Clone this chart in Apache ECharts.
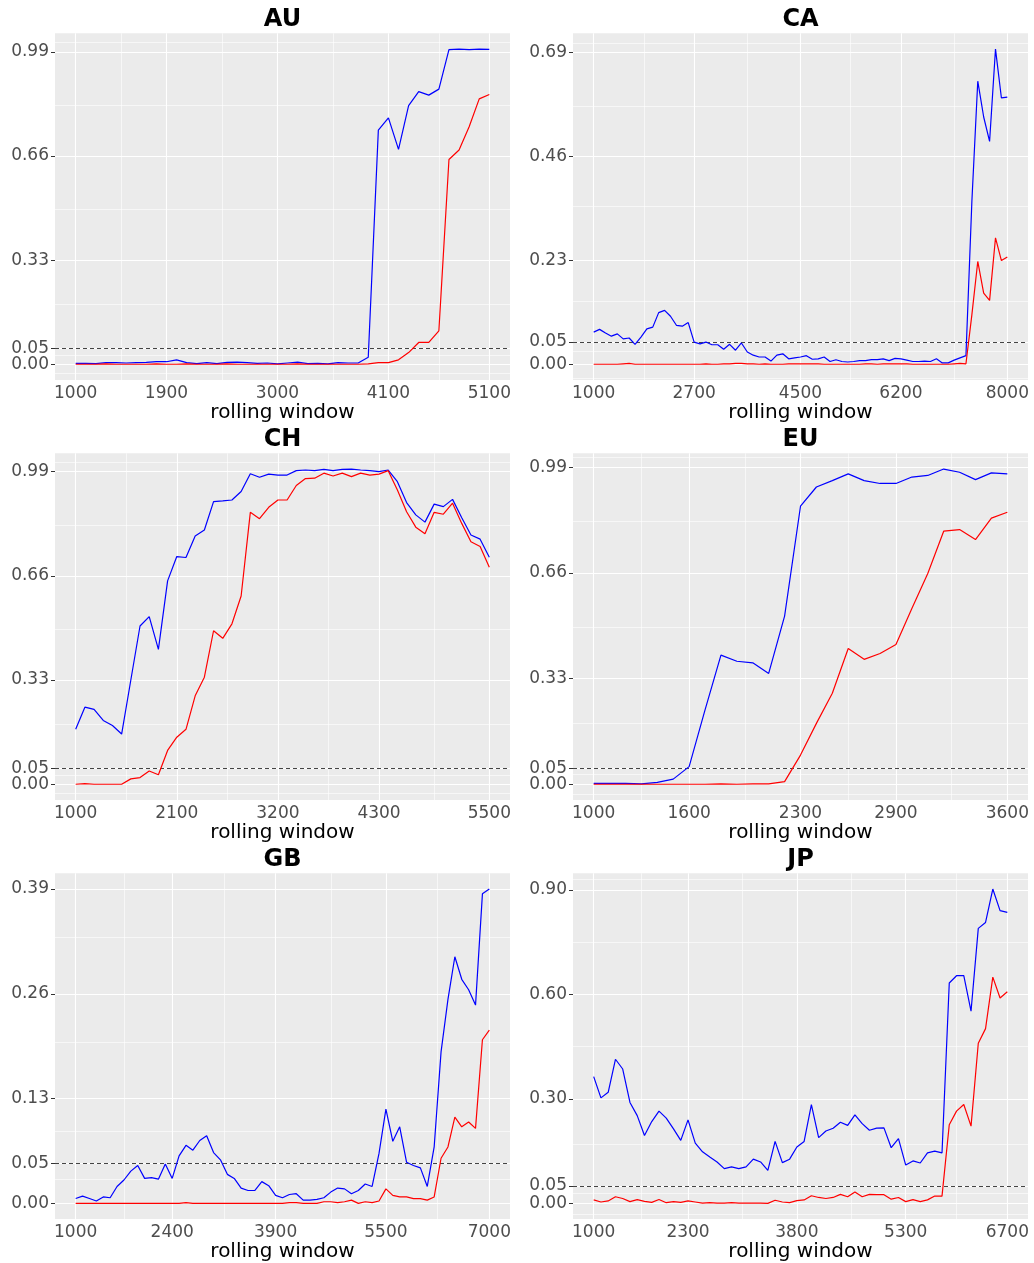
<!DOCTYPE html>
<html>
<head>
<meta charset="utf-8">
<script src="https://cdn.jsdelivr.net/npm/echarts@6/dist/echarts.min.js"></script>
<style>
  html, body { margin: 0; padding: 0; background: #ffffff; }
  #chart { width: 1034px; height: 1263px; }
</style>
</head>
<body>
<div id="chart"></div>
<script>
// Rolling-window p-values per market: blue and red test series, one point every 100 observations.
const WINDOW_STEP = 100;
const THRESHOLD = 0.05;

// ---- AU ----
const AU_span = [1000, 5100];
const AU_xBreaks = [1000, 1900, 3000, 4100, 5100];
const AU_yBreaks = [0, 0.05, 0.33, 0.66, 0.99];
const AU_blue = [0.003, 0.003, 0.002, 0.005, 0.005, 0.004, 0.005, 0.006, 0.008, 0.008,
  0.014, 0.005, 0.002, 0.005, 0.002, 0.006, 0.007, 0.005, 0.003, 0.004,
  0.001, 0.004, 0.007, 0.002, 0.003, 0.001, 0.005, 0.004, 0.004, 0.022,
  0.742, 0.781, 0.681, 0.820, 0.864, 0.853, 0.872, 0.997, 0.999, 0.997, 0.999, 0.998];
const AU_red = [0, 0, 0, 0.001, 0, 0, 0, 0, 0.001, 0,
  0, 0.001, 0, 0, 0, 0.001, 0, 0, 0, 0,
  0, 0, 0.001, 0, 0, 0, 0, 0, 0, 0.001,
  0.005, 0.005, 0.014, 0.037, 0.069, 0.069, 0.106, 0.649, 0.679, 0.753, 0.841, 0.855];

// ---- CA ----
const CA_span = [1000, 8000];
const CA_xBreaks = [1000, 2700, 4500, 6200, 8000];
const CA_yBreaks = [0, 0.05, 0.23, 0.46, 0.69];
const CA_blue = [0.072, 0.078, 0.070, 0.063, 0.068, 0.057, 0.059, 0.045, 0.061, 0.079,
  0.083, 0.115, 0.120, 0.107, 0.087, 0.085, 0.093, 0.050, 0.046, 0.050,
  0.044, 0.044, 0.034, 0.045, 0.032, 0.048, 0.028, 0.021, 0.017, 0.017,
  0.008, 0.021, 0.024, 0.013, 0.015, 0.017, 0.020, 0.012, 0.013, 0.017,
  0.007, 0.011, 0.007, 0.006, 0.007, 0.009, 0.009, 0.011, 0.011, 0.013,
  0.009, 0.014, 0.013, 0.010, 0.007, 0.007, 0.008, 0.007, 0.013, 0.004,
  0.004, 0.010, 0.015, 0.020, 0.360, 0.626, 0.547, 0.493, 0.697, 0.589, 0.591];
const CA_red = [0.001, 0.001, 0.001, 0.001, 0.001, 0.002, 0.003, 0.001, 0.001, 0.001,
  0.001, 0.001, 0.001, 0.001, 0.001, 0.001, 0.001, 0.001, 0.001, 0.002,
  0.001, 0.001, 0.002, 0.002, 0.003, 0.003, 0.002, 0.002, 0.001, 0.002,
  0.001, 0.001, 0.001, 0.002, 0.002, 0.002, 0.002, 0.002, 0.002, 0.001,
  0.001, 0.001, 0.001, 0.001, 0.001, 0.001, 0.002, 0.002, 0.001, 0.002,
  0.002, 0.002, 0.002, 0.002, 0.001, 0.001, 0.001, 0.001, 0.001, 0.001,
  0.001, 0.002, 0.003, 0.002, 0.110, 0.228, 0.158, 0.142, 0.280, 0.230, 0.238];

// ---- CH ----
const CH_span = [1000, 5500];
const CH_xBreaks = [1000, 2100, 3200, 4300, 5500];
const CH_yBreaks = [0, 0.05, 0.33, 0.66, 0.99];
const CH_blue = [0.174, 0.244, 0.237, 0.202, 0.186, 0.159, 0.330, 0.501, 0.531, 0.427,
  0.644, 0.721, 0.718, 0.786, 0.805, 0.895, 0.897, 0.900, 0.927, 0.983,
  0.972, 0.982, 0.979, 0.979, 0.993, 0.995, 0.993, 0.997, 0.993, 0.997,
  0.998, 0.995, 0.993, 0.990, 0.995, 0.958, 0.892, 0.853, 0.830, 0.887,
  0.879, 0.902, 0.844, 0.789, 0.776, 0.719];
const CH_red = [0, 0.002, 0, 0, 0, 0, 0.017, 0.021, 0.042, 0.030,
  0.107, 0.149, 0.174, 0.280, 0.339, 0.486, 0.462, 0.508, 0.596, 0.861,
  0.841, 0.877, 0.900, 0.900, 0.946, 0.968, 0.969, 0.985, 0.976, 0.985,
  0.974, 0.985, 0.979, 0.982, 0.993, 0.932, 0.863, 0.814, 0.793, 0.861,
  0.855, 0.890, 0.826, 0.768, 0.753, 0.687];

// ---- EU ----
const EU_span = [1000, 3600];
const EU_xBreaks = [1000, 1600, 2300, 2900, 3600];
const EU_yBreaks = [0, 0.05, 0.33, 0.66, 0.99];
const EU_blue = [0.003, 0.003, 0.003, 0.001, 0.006, 0.016, 0.055, 0.232, 0.403, 0.384,
  0.379, 0.346, 0.525, 0.868, 0.928, 0.948, 0.969, 0.948, 0.939, 0.939,
  0.959, 0.964, 0.984, 0.974, 0.951, 0.972, 0.969];
const EU_red = [0, 0, 0, 0, 0, 0, 0, 0, 0.001, 0,
  0.001, 0.001, 0.008, 0.091, 0.190, 0.284, 0.424, 0.390, 0.408, 0.436,
  0.549, 0.658, 0.790, 0.795, 0.764, 0.831, 0.849];

// ---- GB ----
const GB_span = [1000, 7000];
const GB_xBreaks = [1000, 2400, 3900, 5500, 7000];
const GB_yBreaks = [0, 0.05, 0.13, 0.26, 0.39];
const GB_blue = [0.006, 0.009, 0.006, 0.003, 0.008, 0.007, 0.021, 0.029, 0.040, 0.047,
  0.031, 0.032, 0.030, 0.049, 0.031, 0.059, 0.072, 0.066, 0.078, 0.084,
  0.063, 0.054, 0.036, 0.031, 0.019, 0.016, 0.016, 0.027, 0.022, 0.010,
  0.007, 0.011, 0.012, 0.004, 0.004, 0.005, 0.007, 0.014, 0.019, 0.018,
  0.012, 0.016, 0.024, 0.021, 0.062, 0.117, 0.077, 0.095, 0.051, 0.047,
  0.044, 0.021, 0.070, 0.188, 0.253, 0.306, 0.278, 0.265, 0.246, 0.384,
  0.390];
const GB_red = [0, 0, 0, 0, 0, 0, 0, 0, 0, 0,
  0, 0, 0, 0, 0, 0, 0.001, 0, 0, 0,
  0, 0, 0, 0, 0, 0, 0, 0, 0, 0,
  0, 0.001, 0.001, 0, 0, 0, 0.002, 0.002, 0.001, 0.002,
  0.004, 0, 0.002, 0.001, 0.003, 0.018, 0.010, 0.008, 0.008, 0.006,
  0.006, 0.004, 0.008, 0.056, 0.070, 0.107, 0.095, 0.101, 0.093, 0.203,
  0.215];

// ---- JP ----
const JP_span = [1000, 6700];
const JP_xBreaks = [1000, 2300, 3800, 5300, 6700];
const JP_yBreaks = [0, 0.05, 0.30, 0.60, 0.90];
const JP_blue = [0.364, 0.303, 0.319, 0.414, 0.386, 0.290, 0.252, 0.195, 0.235, 0.265,
  0.245, 0.214, 0.181, 0.240, 0.173, 0.148, 0.133, 0.119, 0.100, 0.105,
  0.100, 0.105, 0.127, 0.119, 0.095, 0.178, 0.117, 0.127, 0.162, 0.178,
  0.284, 0.189, 0.208, 0.216, 0.233, 0.224, 0.254, 0.229, 0.210, 0.216,
  0.217, 0.160, 0.186, 0.110, 0.122, 0.116, 0.145, 0.150, 0.145, 0.633,
  0.654, 0.654, 0.552, 0.790, 0.807, 0.903, 0.841, 0.836];
const JP_red = [0.010, 0.004, 0.007, 0.019, 0.014, 0.005, 0.011, 0.006, 0.003, 0.011,
  0.002, 0.005, 0.003, 0.007, 0.004, 0.001, 0.002, 0.001, 0.001, 0.002,
  0.001, 0.001, 0.001, 0.001, 0, 0.009, 0.004, 0.002, 0.008, 0.010,
  0.022, 0.017, 0.014, 0.017, 0.026, 0.019, 0.033, 0.019, 0.026, 0.025,
  0.025, 0.012, 0.017, 0.005, 0.011, 0.005, 0.010, 0.021, 0.021, 0.226,
  0.265, 0.284, 0.222, 0.460, 0.502, 0.650, 0.590, 0.608];

const panels = [
  { name: 'AU', span: AU_span, xBreaks: AU_xBreaks, yBreaks: AU_yBreaks, blue: AU_blue, red: AU_red },
  { name: 'CA', span: CA_span, xBreaks: CA_xBreaks, yBreaks: CA_yBreaks, blue: CA_blue, red: CA_red },
  { name: 'CH', span: CH_span, xBreaks: CH_xBreaks, yBreaks: CH_yBreaks, blue: CH_blue, red: CH_red },
  { name: 'EU', span: EU_span, xBreaks: EU_xBreaks, yBreaks: EU_yBreaks, blue: EU_blue, red: EU_red },
  { name: 'GB', span: GB_span, xBreaks: GB_xBreaks, yBreaks: GB_yBreaks, blue: GB_blue, red: GB_red },
  { name: 'JP', span: JP_span, xBreaks: JP_xBreaks, yBreaks: JP_yBreaks, blue: JP_blue, red: JP_red }
];

// ---- layout (2 columns x 3 rows) ----
const COL_LEFT = [55, 573];
const ROW_TOP = [33.3, 453.3, 873.3];
const PANEL_W = 455;
const PANEL_H = 346.7;
const FONT = 'DejaVu Sans';

function windows(span) {
  const out = [];
  for (let w = span[0]; w <= span[1]; w += WINDOW_STEP) out.push(w);
  return out;
}

// 5% padding on each side of the data range
function paddedRange(values) {
  const lo = Math.min.apply(null, values);
  const hi = Math.max.apply(null, values);
  const pad = (hi - lo) * 0.05;
  return [lo - pad, hi + pad];
}

// minor grid: midpoints between breaks, extended by the first break step
function minorBreaks(b, lo, hi) {
  const e = b.slice();
  const step = b[1] - b[0];
  if (lo < e[0]) e.unshift(e[0] - step);
  if (hi > e[e.length - 1]) e.push(e[e.length - 1] + step);
  const mids = [];
  for (let i = 0; i < e.length - 1; i++) mids.push((e[i] + e[i + 1]) / 2);
  return mids.filter(v => v > lo && v < hi);
}

function yAxisFor(i, yr, values) {
  return {
    gridIndex: i, type: 'value', position: 'left', offset: 0, min: yr[0], max: yr[1],
    axisLine: { show: false },
    axisTick: { show: true, length: 4, customValues: values, lineStyle: { color: '#333333', width: 1 } },
    axisLabel: { customValues: values, hideOverlap: false, showMinLabel: true, showMaxLabel: true,
      color: '#4D4D4D', fontSize: 17, fontFamily: FONT, margin: 6,
      formatter: v => v.toFixed(2) },
    splitLine: { show: false }
  };
}

const grids = [], xAxes = [], yAxes = [], series = [], graphics = [];

panels.forEach((p, i) => {
  const col = i % 2, row = Math.floor(i / 2);
  const left = COL_LEFT[col], top = ROW_TOP[row];
  const xs = windows(p.span);
  if (xs.length !== p.blue.length || xs.length !== p.red.length) {
    console.error('length mismatch in ' + p.name, xs.length, p.blue.length, p.red.length);
  }
  const xr = paddedRange(xs);
  const yr = paddedRange(p.blue.concat(p.red, [THRESHOLD]));

  grids.push({
    left: left, top: top, width: PANEL_W, height: PANEL_H,
    show: true, backgroundColor: '#EBEBEB', borderWidth: 0, containLabel: false
  });

  xAxes.push({
    gridIndex: i, type: 'value', min: xr[0], max: xr[1],
    axisLine: { show: false },
    axisTick: { show: true, length: 4, customValues: p.xBreaks, lineStyle: { color: '#333333', width: 1 } },
    axisLabel: { customValues: p.xBreaks, hideOverlap: false, showMinLabel: true, showMaxLabel: true,
      color: '#4D4D4D', fontSize: 17, fontFamily: FONT, margin: 5,
      formatter: v => String(Math.round(v)) },
    splitLine: { show: false },
    name: 'rolling window', nameLocation: 'middle', nameGap: 29,
    nameTextStyle: { color: '#000000', fontSize: 20, fontFamily: FONT, verticalAlign: 'middle' }
  });

  // the 0.05 label sits very close to 0.00, so it lives on its own overlaid axis
  const yIdx = yAxes.length;
  yAxes.push(yAxisFor(i, yr, p.yBreaks.filter(v => v !== THRESHOLD)));
  yAxes.push(yAxisFor(i, yr, [THRESHOLD]));

  // panel grid lines + 5% threshold, kept beneath the data lines
  const minorStyle = { color: '#FFFFFF', width: 0.6, type: 'solid' };
  const majorStyle = { color: '#FFFFFF', width: 1.1, type: 'solid' };
  const lines = [];
  minorBreaks(p.yBreaks, yr[0], yr[1]).forEach(v => lines.push({ yAxis: v, lineStyle: minorStyle }));
  minorBreaks(p.xBreaks, xr[0], xr[1]).forEach(v => lines.push({ xAxis: v, lineStyle: minorStyle }));
  p.yBreaks.forEach(v => lines.push({ yAxis: v, lineStyle: majorStyle }));
  p.xBreaks.forEach(v => lines.push({ xAxis: v, lineStyle: majorStyle }));
  lines.push({ yAxis: THRESHOLD, lineStyle: { color: '#444444', width: 1, type: [4, 3] } });

  series.push({
    type: 'line', xAxisIndex: i, yAxisIndex: yIdx, z: 1, silent: true,
    data: xs.map((x, k) => [x, p.blue[k]]),
    showSymbol: false, lineStyle: { opacity: 0 },
    markLine: { z: 1, silent: true, symbol: ['none', 'none'], label: { show: false }, animation: false, data: lines }
  });
  series.push({
    name: p.name + ' blue', type: 'line', xAxisIndex: i, yAxisIndex: yIdx, z: 3,
    data: xs.map((x, k) => [x, p.blue[k]]),
    showSymbol: false, lineStyle: { color: '#0000FF', width: 1.2 }, itemStyle: { color: '#0000FF' }
  });
  series.push({
    name: p.name + ' red', type: 'line', xAxisIndex: i, yAxisIndex: yIdx, z: 4,
    data: xs.map((x, k) => [x, p.red[k]]),
    showSymbol: false, lineStyle: { color: '#FF0000', width: 1.2 }, itemStyle: { color: '#FF0000' }
  });

  graphics.push({
    type: 'text', x: left + PANEL_W / 2, y: top - 14,
    style: { text: p.name, align: 'center', verticalAlign: 'middle',
      font: 'bold 24px "' + FONT + '"', fill: '#000000' }
  });
});

const chart = echarts.init(document.getElementById('chart'), null, { renderer: 'canvas' });
chart.setOption({
  animation: false,
  backgroundColor: '#FFFFFF',
  grid: grids,
  xAxis: xAxes,
  yAxis: yAxes,
  series: series,
  graphic: graphics
});
</script>
</body>
</html>
